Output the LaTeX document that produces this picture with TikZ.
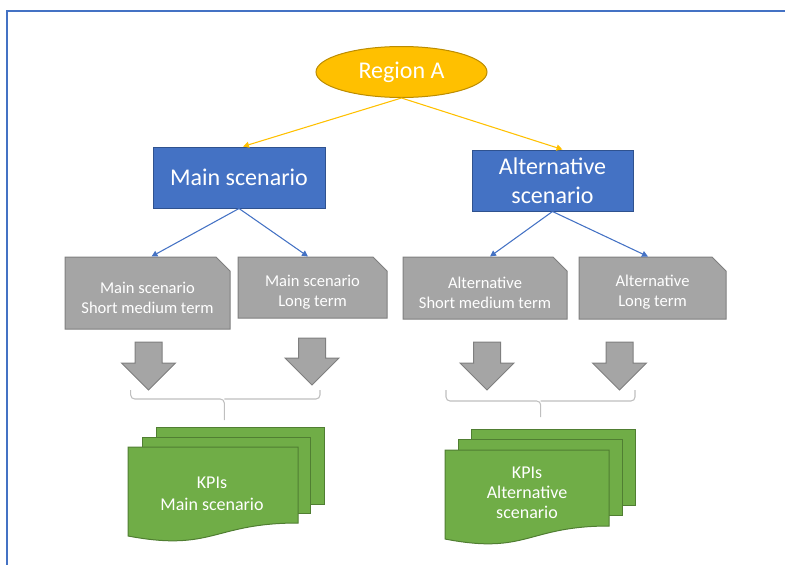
\documentclass[tikz,border=0pt]{standalone}
\usepackage{fontspec}
\setmainfont{Carlito}
\usetikzlibrary{arrows.meta,shapes.geometric,shapes.misc,calc}
\definecolor{goldf}{HTML}{FFC000}
\definecolor{goldd}{HTML}{BC8C00}
\definecolor{bluef}{HTML}{4472C4}
\definecolor{blued}{HTML}{2F528F}
\definecolor{grayf}{HTML}{A5A5A5}
\definecolor{grayd}{HTML}{7F7F7F}
\definecolor{greenf}{HTML}{70AD47}
\definecolor{greend}{HTML}{507E32}
\definecolor{framec}{HTML}{4472C4}
\definecolor{brack}{HTML}{BFBFBF}
\def\pxu{0.75pt}
\tikzset{
  regionnode/.style={ellipse, fill=goldf, draw=goldd, line width=0.75pt, inner sep=0pt,
    minimum width=171*\pxu, minimum height=51*\pxu, text=white, font=\fontsize{18}{21.5}\selectfont},
  scennode/.style={rectangle, fill=bluef, draw=blued, line width=0.75pt, inner sep=0pt,
    minimum height=61*\pxu, text=white, align=center, font=\fontsize{18}{21.75}\selectfont},
  termnode/.style={chamfered rectangle, chamfered rectangle corners=north east,
    chamfered rectangle xsep=7*\pxu, chamfered rectangle ysep=7*\pxu,
    fill=grayf, draw=grayd, line width=0.75pt, inner sep=0pt, align=center,
    font=\fontsize{12.4}{15.2}\selectfont},
  termtext/.style={text=white, align=center, inner sep=0pt, yshift=-3.4pt,
    font=\fontsize{12.4}{15.2}\selectfont},
  yconn/.style={draw=goldf, line width=0.8pt, -{Triangle[length=4.5pt,width=4.5pt]}},
  bconn/.style={draw=bluef, line width=0.8pt, -{Triangle[length=4.5pt,width=4.5pt]}},
  blockarr/.style={fill=grayf, draw=grayd, line width=0.75pt},
  bracketline/.style={draw=brack, line width=0.8pt, rounded corners=3pt},
  docsheet/.style={fill=greenf, draw=greend, line width=0.75pt},
  doctext/.style={text=white, align=center, inner sep=0pt}
}
\newcommand\blockarrow[4]{% cx, top, head top, tip
  \draw[blockarr] ({#1-13.5},#2) -- ({#1+13.5},#2) -- ({#1+13.5},#3) -- ({#1+27},#3)
    -- (#1,#4) -- ({#1-27},#3) -- ({#1-13.5},#3) -- cycle;}
\begin{document}
\begin{tikzpicture}[x=0.75pt,y=-0.75pt]
\useasboundingbox (0,0) rectangle (785,564);
% frame
\draw[framec, line width=1.5pt] (7,570) -- (7,11) -- (795,11);

% region
\node[regionnode] (region) at (401.5,72) {Region A};

% scenarios
\node[scennode, minimum width=172*\pxu] (main) at (239,177.5) {Main scenario};
\node[scennode, minimum width=161*\pxu] (alt) at (552.5,180.5) {Alternative\\scenario};

\draw[yconn] (region.south) -- ($(main.north)+(4,0)$);
\draw[yconn] (region.south) -- ($(alt.north)+(10,0)$);

% term boxes
\node[termnode, minimum width=165*\pxu, minimum height=72*\pxu,
  label={[termtext]center:Main scenario\\Short medium term}] (b1) at (147.5,293)
  {\phantom{Main scenario}\\\phantom{Short medium term}};
\node[termnode, minimum width=149*\pxu, minimum height=61*\pxu,
  label={[termtext]center:Main scenario\\Long term}] (b2) at (312.5,287.5)
  {\phantom{Main scenario}\\\phantom{Long term}};
\node[termnode, minimum width=164*\pxu, minimum height=62*\pxu,
  label={[termtext]center:Alternative\\Short medium term}] (b3) at (485,288)
  {\phantom{Alternative}\\\phantom{Short medium term}};
\node[termnode, minimum width=147*\pxu, minimum height=62*\pxu,
  label={[termtext]center:Alternative\\Long term}] (b4) at (652.5,288)
  {\phantom{Alternative}\\\phantom{Long term}};

\draw[bconn] (main.south) -- ($(b1.north)+(4,0)$);
\draw[bconn] (main.south) -- ($(b2.north)+(-4.5,0)$);
\draw[bconn] (alt.south) -- ($(b3.north)+(5,0)$);
\draw[bconn] (alt.south) -- ($(b4.north)+(-4.5,0)$);

% block arrows
\blockarrow{148.5}{342}{363}{390}
\blockarrow{312}{338}{358}{385}
\blockarrow{487}{342}{363}{390}
\blockarrow{619.5}{342}{363}{390}

% brackets
\draw[bracketline] (130.7,390) |- (224.3,399) -- (224.3,420);
\draw[bracketline] (320,390) |- (224.3,399);
\draw[bracketline] (446,390) |- (540.7,401) -- (540.7,417);
\draw[bracketline] (635,390) |- (540.7,401);

% left document stack
\draw[docsheet] (156,427) rectangle (324,504);
\draw[docsheet] (142.5,437) rectangle (310,513);
\draw[docsheet] (128,447) -- (298,447) -- (298,523) .. controls (213,523) and (213,552) .. (128,536) -- cycle;
\node[doctext, font=\fontsize{13.5}{16.5}\selectfont] (kpi1) at (212,494) {KPIs\\Main scenario};

% right document stack
\draw[docsheet] (471,429) rectangle (635,505);
\draw[docsheet] (458,439) rectangle (622,515);
\draw[docsheet] (445,450) -- (609,450) -- (609,526) .. controls (527,526) and (527,555) .. (445,539) -- cycle;
\node[doctext, font=\fontsize{13.5}{15}\selectfont] (kpi2) at (527,492.5) {KPIs\\Alternative\\scenario};
\end{tikzpicture}
\end{document}
